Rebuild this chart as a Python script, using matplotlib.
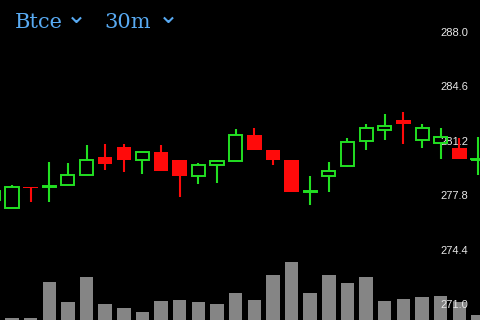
import matplotlib
matplotlib.use("Agg")
import matplotlib.pyplot as plt
from matplotlib.patches import Rectangle

# ── OHLC + volume (30m candles, first one partly off-screen) ────────────────
idx    = list(range(-1, 26))
opens  = [277.50, 277.00, 278.31, 278.31, 278.44, 279.06, 280.19, 280.81, 280.00,
          280.50, 280.00, 279.00, 279.69, 279.94, 281.56, 280.62, 280.00, 278.00,
          279.00, 279.62, 281.19, 281.88, 282.50, 281.25, 281.06, 280.75, 280.00]
highs  = [278.06, 278.44, 278.31, 279.88, 279.81, 280.94, 281.00, 281.00, 280.50,
          280.94, 280.00, 279.81, 280.00, 281.94, 282.00, 280.62, 280.00, 279.00,
          279.88, 281.38, 282.25, 282.88, 283.00, 282.25, 282.00, 281.38, 281.44]
lows   = [277.50, 277.00, 277.38, 277.38, 278.44, 279.06, 279.38, 279.25, 279.12,
          279.31, 277.69, 278.50, 278.56, 279.94, 280.62, 279.69, 278.00, 277.19,
          278.00, 279.56, 280.62, 281.25, 281.00, 280.75, 280.06, 280.06, 279.06]
closes = [278.06, 278.31, 278.25, 278.38, 279.06, 280.00, 279.75, 280.00, 280.50,
          279.31, 279.00, 279.69, 279.94, 281.56, 280.62, 280.00, 278.00, 278.00,
          279.31, 281.12, 282.00, 282.12, 282.25, 282.00, 281.44, 280.06, 280.00]
volume = [0, 2, 2, 38, 18, 43, 16, 12, 8, 19, 20, 18, 16, 27, 20, 45, 58, 27,
          45, 37, 43, 19, 21, 23, 24, 18, 5]

price_ticks = [271.0, 274.4, 277.8, 281.2, 284.6, 288.0]

GREEN = "#22e022"
RED = "#ff0a0a"
BLUE = "#58aaf2"

fig = plt.figure(figsize=(4.8, 3.2), dpi=100, facecolor="black")

XLIM = (-0.644, 25.11)

# volume underneath
axv = fig.add_axes([0, 0, 1, 1])
axv.set_facecolor("black")
axv.bar(idx, volume, width=0.72, color="#858585")
axv.set_xlim(*XLIM)
axv.set_ylim(0, 320)
axv.axis("off")

# price on top
ax = fig.add_axes([0, 0, 1, 1])
ax.patch.set_alpha(0)
ax.set_xlim(*XLIM)
ax.set_ylim(270, 290)

for x, o, h, l, c in zip(idx, opens, highs, lows, closes):
    up = c >= o
    col = GREEN if up else RED
    lo_body, hi_body = min(o, c), max(o, c)
    if h > hi_body:
        ax.plot([x, x], [hi_body, h], color=col, lw=1.5, solid_capstyle="butt", zorder=2)
    if l < lo_body:
        ax.plot([x, x], [l, lo_body], color=col, lw=1.5, solid_capstyle="butt", zorder=2)
    hgt = max(hi_body - lo_body, 0.06)
    if up:
        ax.add_patch(Rectangle((x - 0.35, lo_body), 0.70, hgt, facecolor="none",
                               edgecolor=col, lw=1.4, zorder=3))
    else:
        ax.add_patch(Rectangle((x - 0.39, lo_body), 0.78, hgt, facecolor=col,
                               edgecolor="none", zorder=3))

ax.set_yticks(price_ticks)
ax.set_yticklabels([f"{t:.1f}" for t in price_ticks])
ax.yaxis.tick_right()
ax.tick_params(axis="y", length=0, pad=-8.6, labelsize=8, labelcolor="#e8e8e8")
for lab in ax.get_yticklabels():
    lab.set_horizontalalignment("right")
    lab.set_fontfamily("Liberation Sans")
    lab.set_zorder(10)
ax.set_xticks([])
for s in ax.spines.values():
    s.set_visible(False)

# header selectors
fig.text(15 / 480, 1 - 28 / 320, "Btce", color=BLUE, fontsize=15,
         family="DejaVu Serif", ha="left", va="baseline")
fig.text(66 / 480, 1 - 23 / 320, "\u2304", color=BLUE, fontsize=18,
         family="DejaVu Sans", ha="left", va="baseline")
fig.text(104 / 480, 1 - 28 / 320, "30m", color=BLUE, fontsize=15,
         family="DejaVu Serif", ha="left", va="baseline")
fig.text(158 / 480, 1 - 23 / 320, "\u2304", color=BLUE, fontsize=18,
         family="DejaVu Sans", ha="left", va="baseline")

fig.savefig("out.png", dpi=100, facecolor="black")
